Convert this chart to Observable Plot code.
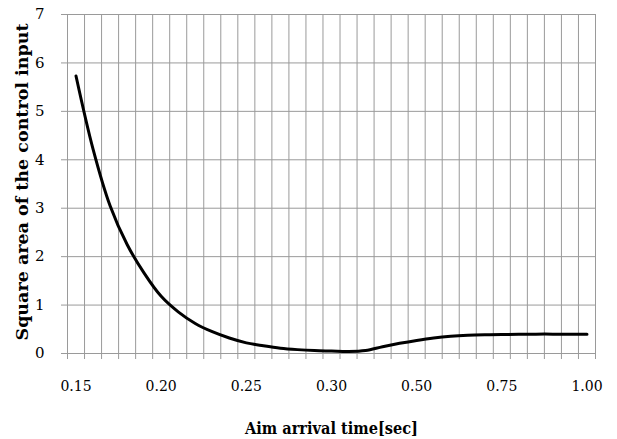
<!DOCTYPE html>
<html>
<head>
<meta charset="utf-8">
<script src="https://cdn.jsdelivr.net/npm/d3@7"></script>
<script src="https://cdn.jsdelivr.net/npm/@observablehq/plot@0.6"></script>
<style>
  html, body { margin: 0; padding: 0; background: #fff; }
  #chart { width: 617px; height: 439px; overflow: hidden; }
</style>
</head>
<body>
<div id="chart"></div>
<script>
const categories = ["0.15","0.16","0.17","0.18","0.19","0.20","0.21","0.22","0.23","0.24",
  "0.25","0.26","0.27","0.28","0.29","0.30","0.34","0.38","0.42","0.46",
  "0.50","0.55","0.60","0.65","0.70","0.75","0.80","0.85","0.90","0.95","1.00"];
const values = [5.73, 4.22, 3.05, 2.25, 1.66, 1.18, 0.86, 0.62, 0.45, 0.32,
  0.22, 0.16, 0.11, 0.08, 0.06, 0.05, 0.04, 0.06, 0.14, 0.21,
  0.27, 0.32, 0.355, 0.375, 0.385, 0.39, 0.395, 0.40, 0.40, 0.40, 0.40];
const labeledTicks = ["0.15","0.20","0.25","0.30","0.50","0.75","1.00"];
const yTicks = [0, 1, 2, 3, 4, 5, 6, 7];
const xTitle = "Aim arrival time[sec]";
const yTitle = "Square area of the control input";

const data = categories.map((c, i) => ({i, c, v: values[i]}));
const boundaries = d3.range(categories.length + 1).map(i => i - 0.5);
const labelIdx = labeledTicks.map(t => categories.indexOf(t));

const grid = "#9a9a9a";
const serif = "DejaVu Serif";

const chart = Plot.plot({
  width: 617,
  height: 439,
  marginLeft: 67,
  marginRight: 22,
  marginTop: 14,
  marginBottom: 86,
  style: {fontSize: "14px", background: "#fff", color: "#000"},
  x: {type: "linear", domain: [-0.5, categories.length - 0.5]},
  y: {domain: [0, 7]},
  marks: [
    Plot.ruleY(yTicks, {stroke: grid, strokeWidth: 1}),
    Plot.ruleX(boundaries, {stroke: grid, strokeWidth: 1}),
    Plot.axisY({ticks: yTicks, tickSize: 6, tickPadding: 17, stroke: grid, fill: "#000", fontSize: 15, label: null, tickFormat: d => String(d)}),
    Plot.axisX({ticks: boundaries, tickSize: 6, stroke: grid, text: null, label: null}),
    Plot.axisX({ticks: labelIdx, tickSize: 0, tickPadding: 28, fontSize: 14, tickFormat: i => categories[i], fill: "#000", label: null}),
    Plot.line(data, {x: "i", y: "v", stroke: "#000", strokeWidth: 3, curve: "catmull-rom"}),
    Plot.text([xTitle], {text: d => d, frameAnchor: "bottom", dy: 75, fontWeight: "bold", fontSize: 17, textAnchor: "middle", lineAnchor: "middle", fill: "#000"}),
    Plot.text([yTitle], {text: d => d, frameAnchor: "left", dx: -45, dy: -2, rotate: -90, fontWeight: "bold", fontSize: 17, textAnchor: "middle", lineAnchor: "middle", fill: "#000"})
  ]
});

chart.setAttribute("font-family", serif);
chart.style.fontFamily = serif;
chart.querySelectorAll("text").forEach(t => {
  t.setAttribute("font-family", serif);
  t.style.fontFamily = serif;
  if (t.textContent === xTitle) {
    t.setAttribute("textLength", 173);
    t.setAttribute("lengthAdjust", "spacingAndGlyphs");
  } else if (t.textContent === yTitle) {
    t.setAttribute("textLength", 317);
    t.setAttribute("lengthAdjust", "spacingAndGlyphs");
  }
});

document.getElementById("chart").appendChild(chart);
</script>
</body>
</html>
